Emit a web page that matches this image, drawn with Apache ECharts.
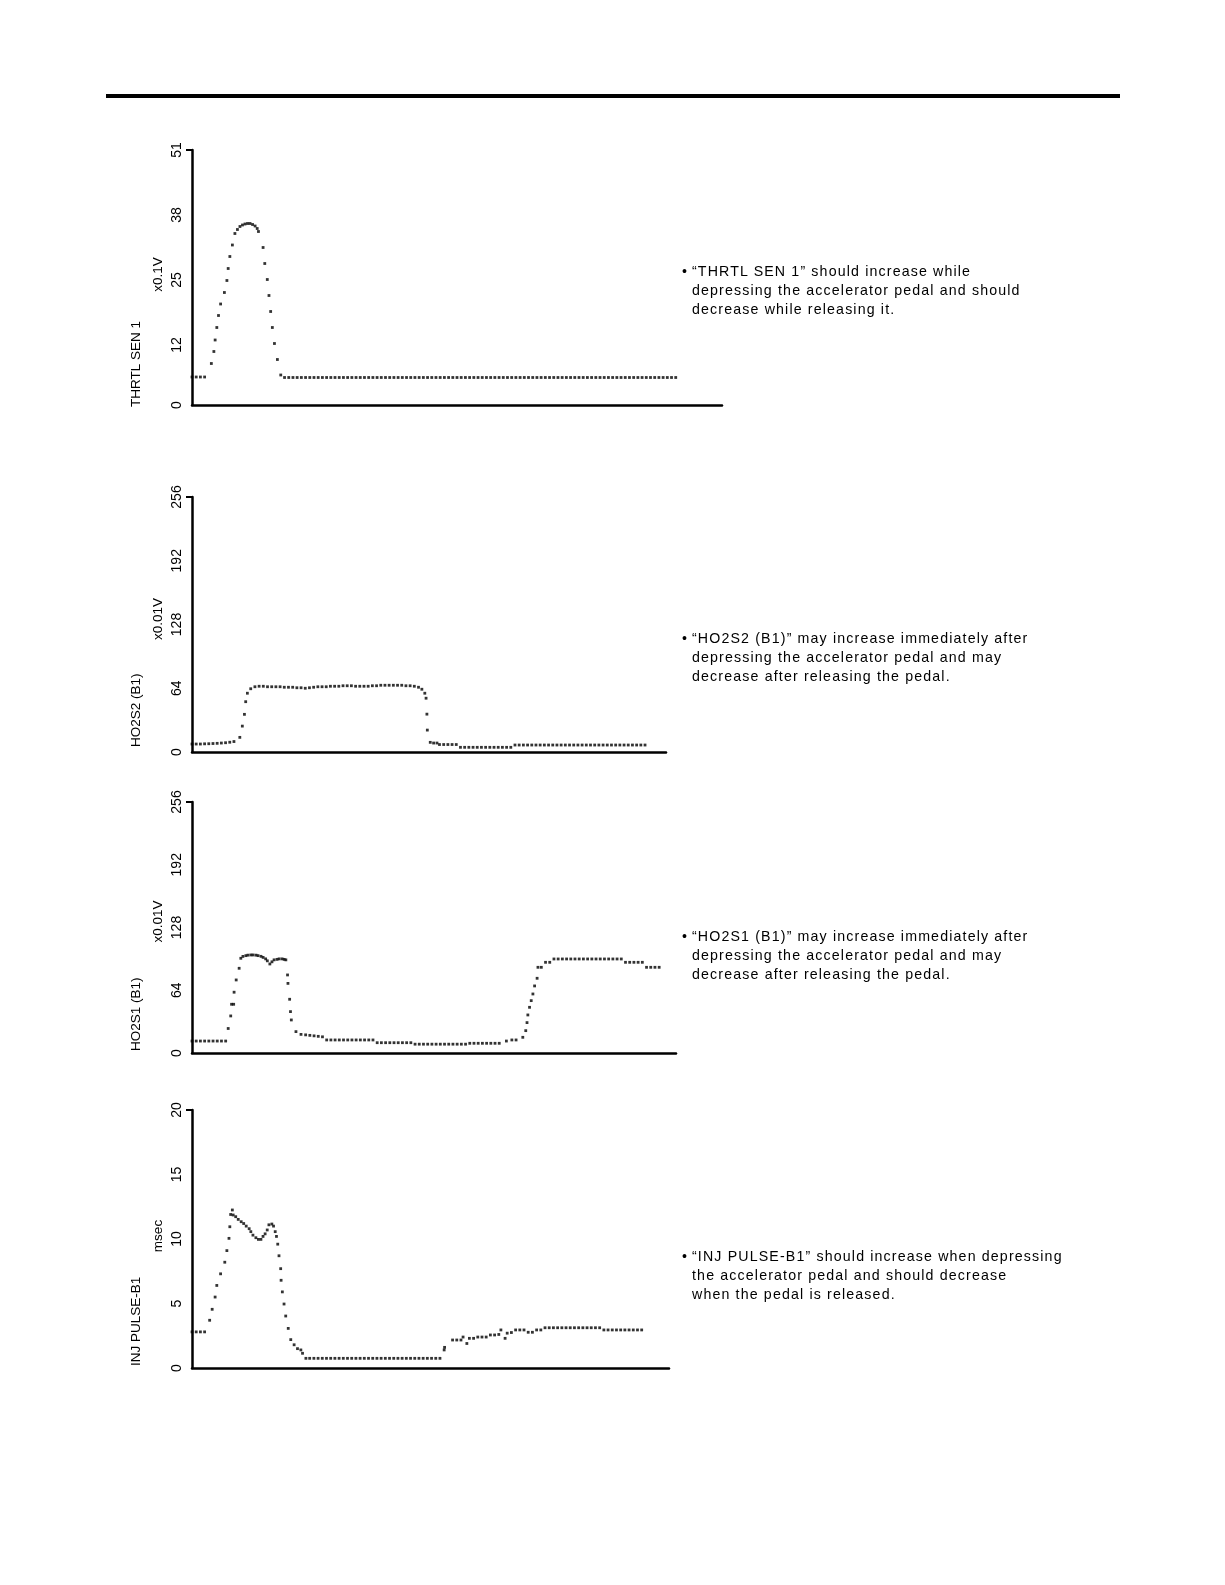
<!DOCTYPE html>
<html>
<head>
<meta charset="utf-8">
<script src="https://cdn.jsdelivr.net/npm/echarts@6/dist/echarts.min.js"></script>
<style>
  html, body { margin: 0; padding: 0; background: #fff; }
  #chart { position: absolute; left: 0; top: 0; width: 1225px; height: 1585px; }
  .rule { position: absolute; left: 106px; top: 94px; width: 1014px; height: 4px; background: #000; }
  .note { position: absolute; left: 692px; font-family: 'Liberation Sans', Arial, sans-serif; font-size: 14.2px;
          letter-spacing: 1.15px; line-height: 19.2px; color: #000; white-space: nowrap; }
  .note .b { position: absolute; left: -10px; top: 0; }
</style>
</head>
<body>
<div id="chart"></div>
<div class="rule"></div>
<script>
// ---------------- data ----------------
const panelNames = ['THRTL SEN 1', 'HO2S2 (B1)', 'HO2S1 (B1)', 'INJ PULSE-B1'];
const panelUnits = ['x0.1V', 'x0.01V', 'x0.01V', 'msec'];
const yMax = [51, 256, 256, 20];
const yTickValues = [[0, 12, 25, 38, 51], [0, 64, 128, 192, 256], [0, 64, 128, 192, 256], [0, 5, 10, 15, 20]];
const timeAxisMax = [126, 113, 115, 113.5];

// samples: [time, value]
const thrtlSen1 = [
  [0,5.6],[1,5.6],[2,5.6],[3,5.6],[4.6,8.3],[5.2,10.7],[5.5,13],[5.9,15.5],[6.3,17.9],[6.8,20.2],[7.7,22.5],
  [8.3,24.9],[8.6,27.3],[9,29.7],[9.6,32],[10.2,34.3],[10.8,35.1],[11.4,35.7],[12,36],[12.6,36.2],[13.2,36.3],
  [13.8,36.3],[14.4,36.1],[15,35.8],[15.5,35.3],[15.8,34.7],[16.9,31.5],[17.3,28.3],[17.9,25.1],[18.3,21.9],
  [18.7,18.7],[19.1,15.5],[19.6,12.3],[20.3,9.1],[21.1,6],
  [22,5.5],[23,5.5],[24,5.5],[25,5.5],[26,5.5],[27,5.5],[28,5.5],[29,5.5],[30,5.5],[31,5.5],[32,5.5],[33,5.5],
  [34,5.5],[35,5.5],[36,5.5],[37,5.5],[38,5.5],[39,5.5],[40,5.5],[41,5.5],[42,5.5],[43,5.5],[44,5.5],[45,5.5],
  [46,5.5],[47,5.5],[48,5.5],[49,5.5],[50,5.5],[51,5.5],[52,5.5],[53,5.5],[54,5.5],[55,5.5],[56,5.5],[57,5.5],
  [58,5.5],[59,5.5],[60,5.5],[61,5.5],[62,5.5],[63,5.5],[64,5.5],[65,5.5],[66,5.5],[67,5.5],[68,5.5],[69,5.5],
  [70,5.5],[71,5.5],[72,5.5],[73,5.5],[74,5.5],[75,5.5],[76,5.5],[77,5.5],[78,5.5],[79,5.5],[80,5.5],[81,5.5],
  [82,5.5],[83,5.5],[84,5.5],[85,5.5],[86,5.5],[87,5.5],[88,5.5],[89,5.5],[90,5.5],[91,5.5],[92,5.5],[93,5.5],
  [94,5.5],[95,5.5],[96,5.5],[97,5.5],[98,5.5],[99,5.5],[100,5.5],[101,5.5],[102,5.5],[103,5.5],[104,5.5],
  [105,5.5],[106,5.5],[107,5.5],[108,5.5],[109,5.5],[110,5.5],[111,5.5],[112,5.5],[113,5.5],[114,5.5],[115,5.5]
];

const ho2s2 = [
  [0,8],[1,8],[2,8],[3,8.2],[4,8.3],[5,8.5],[6,8.7],[7,9],[8,9.3],[9,9.8],[10,10.5],[11.4,14.7],[12,26],
  [12.5,37.8],[12.8,50.5],[13.2,59],[14,63.5],
  [15,65.5],[16,66],[17,66],[18,65.5],[19,65.5],[20,65.5],[21,65.5],[22,65],[23,65],[24,65],[25,64.5],[26,64.5],
  [27,64],[28,64.5],[29,65],[30,65.5],[31,65.5],[32,65.5],[33,66],[34,66],[35,66],[36,66.5],[37,66.5],[38,66.5],
  [39,66],[40,66],[41,66],[42,66],[43,66.5],[44,66.5],[45,67],[46,67],[47,67],[48,67],[49,67],[50,67],[51,66.5],
  [52,66.5],[53,66],[54,65],
  [54.8,63],[55.5,59],[55.8,54],[56,38],[56.1,22],[56.8,9.7],[57.6,9],[58.4,9],
  [59,7.5],[60,7.5],[61,7.5],[62,7.5],[63,7.5],
  [64,4.7],[65,4.7],[66,4.7],[67,4.7],[68,4.7],[69,4.7],[70,4.7],[71,4.7],[72,4.7],[73,4.7],[74,4.7],[75,4.7],[76,4.7],
  [77,7],[78,7],[79,7],[80,7],[81,7],[82,7],[83,7],[84,7],[85,7],[86,7],[87,7],[88,7],[89,7],[90,7],[91,7],[92,7],
  [93,7],[94,7],[95,7],[96,7],[97,7],[98,7],[99,7],[100,7],[101,7],[102,7],[103,7],[104,7],[105,7],[106,7],[107,7],[108,7]
];

const ho2s1 = [
  [0,12.2],[1,12.2],[2,12.2],[3,12.2],[4,12.2],[5,12.2],[6,12.2],[7,12.2],[8,12.2],
  [8.6,25],[9.2,37.8],[9.4,49.7],[9.9,49.7],[10,62],[10.5,74.5],[11.2,86.4],[11.6,96.6],[12.1,98.5],[12.8,99.3],
  [13.3,99.8],[14,100],[14.5,100],[15.2,99.8],[15.7,99.3],[16.4,98.6],[16.9,97.5],[17.5,96],[17.9,94],[18.5,90.8],
  [19,93],[19.5,95],[20.2,95.5],[20.7,96],[21.4,96],[21.9,95.5],[22.3,95],
  [22.7,79.6],[22.8,71],[23.2,54.8],[23.4,42.2],[23.6,33.7],[24.7,21.8],[25.9,19],[27,18.5],[28,18],[29,17.5],
  [30,17],[31,16.5],
  [32,13.3],[33,13.3],[34,13.3],[35,13.3],[36,13.3],[37,13.3],[38,13.3],[39,13.3],[40,13.3],[41,13.3],[42,13.3],[43,13.3],
  [44,10.5],[45,10.5],[46,10.5],[47,10.5],[48,10.5],[49,10.5],[50,10.5],[51,10.5],[52,10.5],
  [53,9],[54,9],[55,9],[56,9],[57,9],[58,9],[59,9],[60,9],[61,9],[62,9],[63,9],[64,9],[65,9],
  [66,9.9],[67,9.9],[68,9.9],[69,9.9],[70,9.9],[71,9.9],[72,9.9],[73,9.9],
  [74.7,12.2],[76,13.3],[77,13.3],[78.6,16],[79.3,22.8],[79.6,31],[79.8,38.8],[80.2,46.6],[80.6,53.4],[81,60.2],
  [81.4,68.4],[82,76.2],[82.2,87.4],[83,87.4],[84,92.5],[85,92.5],
  [86,95.9],[87,95.9],[88,95.9],[89,95.9],[90,95.9],[91,95.9],[92,95.9],[93,95.9],[94,95.9],[95,95.9],[96,95.9],
  [97,95.9],[98,95.9],[99,95.9],[100,95.9],[101,95.9],[102,95.9],
  [103,92.5],[104,92.5],[105,92.5],[106,92.5],[107,92.5],
  [108,87.4],[109,87.4],[110,87.4],[111,87.4]
];

const injPulseB1 = [
  [0,2.8],[1,2.8],[2,2.8],[3,2.8],[4.2,3.7],[4.8,4.55],[5.5,5.5],[5.9,6.4],[6.8,7.3],[7.8,8.2],[8.3,9.1],[8.8,10.05],
  [9,10.95],[9.2,11.9],[9.6,12.25],[9.8,11.86],[10.4,11.73],[11,11.52],[11.7,11.34],[12.3,11.2],[12.9,11],[13.6,10.8],
  [14,10.57],[14.5,10.3],[15.2,10.1],[15.8,9.97],[16.4,9.97],[16.9,10.2],[17.4,10.4],[17.9,10.7],[18.3,11.1],[19,11.16],
  [19.4,11],[19.8,10.57],[20.1,10.2],[20.4,9.6],[20.7,8.7],[21.1,7.7],[21.2,6.8],[21.5,5.9],[21.9,4.96],[22.3,4.03],
  [22.9,3.07],[23.5,2.2],[24.3,1.8],[25.1,1.5],[25.9,1.4],[26.3,1.14],[27.1,0.75],
  [28,0.75],[29,0.75],[30,0.75],[31,0.75],[32,0.75],[33,0.75],[34,0.75],[35,0.75],[36,0.75],[37,0.75],[38,0.75],
  [39,0.75],[40,0.75],[41,0.75],[42,0.75],[43,0.75],[44,0.75],[45,0.75],[46,0.75],[47,0.75],[48,0.75],[49,0.75],
  [50,0.75],[51,0.75],[52,0.75],[53,0.75],[54,0.75],[55,0.75],[56,0.75],[57,0.75],[58,0.75],[59,0.75],
  [60,1.4],[60.1,1.6],[62,2.17],[63,2.17],[64,2.17],[64.5,2.4],[65.4,1.9],[66,2.3],[67,2.3],[68,2.4],[69,2.4],[70,2.4],
  [71,2.56],[72,2.56],[73,2.6],[73.5,2.95],[74.5,2.3],[75,2.7],[76,2.75],[77,2.95],[78,2.95],[79,2.95],[80,2.77],
  [81,2.77],[82,2.95],[83,2.95],
  [84,3.12],[85,3.12],[86,3.12],[87,3.12],[88,3.12],[89,3.12],[90,3.12],[91,3.12],[92,3.12],[93,3.12],[94,3.12],
  [95,3.12],[96,3.12],[97,3.12],
  [98,2.95],[99,2.95],[100,2.95],[101,2.95],[102,2.95],[103,2.95],[104,2.95],[105,2.95],[106,2.95],[107,2.95]
];

const notes = [
  ['“THRTL SEN 1” should increase while', 'depressing the accelerator pedal and should', 'decrease while releasing it.'],
  ['“HO2S2 (B1)” may increase immediately after', 'depressing the accelerator pedal and may', 'decrease after releasing the pedal.'],
  ['“HO2S1 (B1)” may increase immediately after', 'depressing the accelerator pedal and may', 'decrease after releasing the pedal.'],
  ['“INJ PULSE-B1” should increase when depressing', 'the accelerator pedal and should decrease', 'when the pedal is released.']
];

// ---------------- layout ----------------
const FONT = "'Liberation Sans', Arial, sans-serif";
const grids = [
  { left: 192, top: 150, width: 530, height: 255 },
  { left: 192, top: 497, width: 474, height: 255 },
  { left: 192, top: 802, width: 484, height: 251 },
  { left: 192, top: 1110, width: 477, height: 258 }
];
const nameBottomY = [407, 747, 1051, 1366];
const unitCenterY = [274.5, 619, 921.5, 1236];
const noteTop = [262, 629, 927, 1247];
const seriesData = [thrtlSen1, ho2s2, ho2s1, injPulseB1];

const chart = echarts.init(document.getElementById('chart'), null, { renderer: 'canvas' });

const graphic = [];
for (let i = 0; i < 4; i++) {
  graphic.push({
    type: 'text', x: 136, y: nameBottomY[i], rotation: Math.PI / 2,
    style: { text: panelNames[i], font: '13.5px ' + FONT, fill: '#000', align: 'left', verticalAlign: 'middle' }
  });
  graphic.push({
    type: 'text', x: 158, y: unitCenterY[i], rotation: Math.PI / 2,
    style: { text: panelUnits[i], font: '13.5px ' + FONT, fill: '#000', align: 'center', verticalAlign: 'middle' }
  });
}

const option = {
  animation: false,
  backgroundColor: '#fff',
  grid: grids,
  graphic: graphic,
  xAxis: grids.map((g, i) => ({
    gridIndex: i, type: 'value', min: 0, max: timeAxisMax[i],
    axisLine: { show: true, onZero: false, lineStyle: { color: '#000', width: 2.5 } },
    axisTick: { show: false }, axisLabel: { show: false }, splitLine: { show: false }
  })),
  yAxis: grids.map((g, i) => ({
    gridIndex: i, type: 'value', min: 0, max: yMax[i],
    axisLine: { show: true, lineStyle: { color: '#000', width: 2.5 } },
    axisTick: { show: true, customValues: [yMax[i]], length: 6, lineStyle: { color: '#000', width: 2 } },
    axisLabel: { show: true, customValues: yTickValues[i], rotate: 90, margin: 8,
                 fontSize: 14, fontFamily: FONT, color: '#000' },
    splitLine: { show: false }
  })),
  series: seriesData.map((d, i) => ({
    type: 'scatter', xAxisIndex: i, yAxisIndex: i, data: d,
    symbol: 'rect', symbolSize: 2.8, silent: true,
    itemStyle: { color: '#000' }
  }))
};
chart.setOption(option);

// notes text
for (let i = 0; i < 4; i++) {
  const div = document.createElement('div');
  div.className = 'note';
  div.style.top = noteTop[i] + 'px';
  const b = document.createElement('span');
  b.className = 'b';
  b.textContent = '•';
  div.appendChild(b);
  notes[i].forEach((line, k) => {
    if (k > 0) div.appendChild(document.createElement('br'));
    div.appendChild(document.createTextNode(line));
  });
  document.body.appendChild(div);
}
</script>
</body>
</html>
